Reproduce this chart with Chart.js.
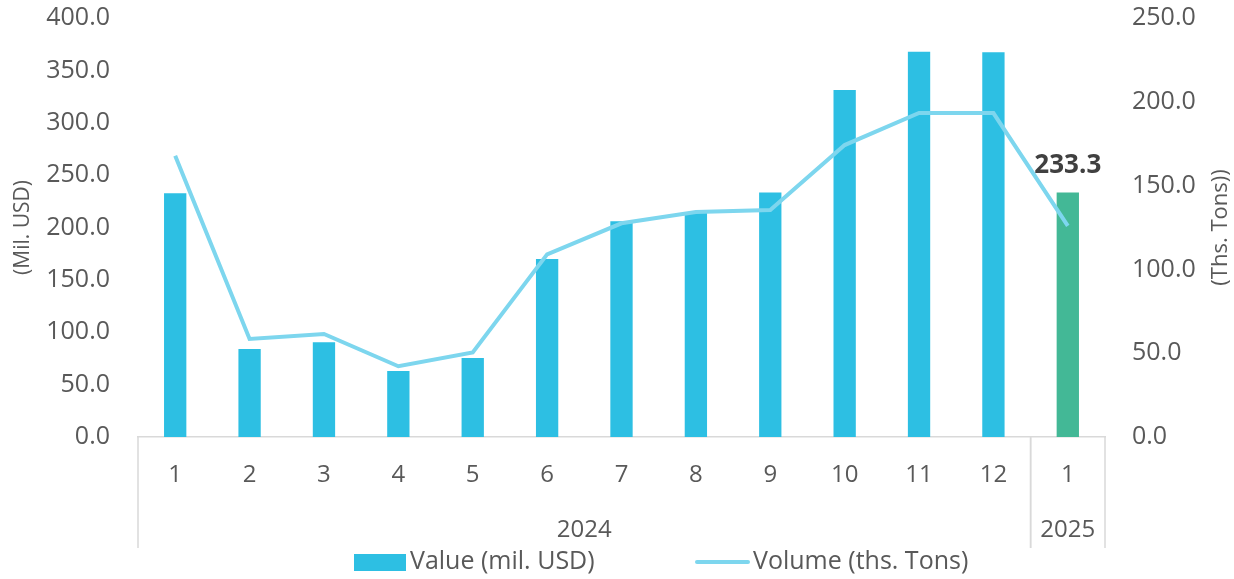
<!DOCTYPE html>
<html>
<head>
<meta charset="utf-8">
<script src="https://cdn.jsdelivr.net/npm/chart.js@4.4.1/dist/chart.umd.min.js"></script>
<style>
  html, body { margin: 0; padding: 0; background: #fff; }
  #wrap { width: 1234px; height: 579px; }
</style>
</head>
<body>
<div id="wrap"><canvas id="chart" width="1234" height="579"></canvas></div>
<script>
  // month labels on the x axis and the year each one belongs to
  const months = ["1", "2", "3", "4", "5", "6", "7", "8", "9", "10", "11", "12", "1"];
  const yearOfMonth = ["2024", "2024", "2024", "2024", "2024", "2024", "2024", "2024", "2024", "2024", "2024", "2024", "2025"];

  // series
  const valueUsd = [232.6, 84, 90.5, 63, 75.5, 170, 206, 214.5, 233.5, 331.3, 367.8, 367.2, 233.3];
  const volumeTons = [167.8, 58.5, 61.5, 42.2, 50.5, 109, 127.5, 134.2, 135.4, 174.2, 193.3, 193.3, 126];

  // axis ranges
  const valueTicks = [0, 50, 100, 150, 200, 250, 300, 350, 400];
  const volumeTicks = [0, 50, 100, 150, 200, 250];

  const FONT = "'Open Sans', 'Noto Sans', sans-serif";
  const TEXT = "#595959";
  const BAR_BLUE = "#2DBFE3";
  const BAR_GREEN = "#43B896";
  const LINE_BLUE = "#7DD6EE";
  const AXIS_GREY = "#D9D9D9";

  const barColors = yearOfMonth.map((y) => (y === "2025" ? BAR_GREEN : BAR_BLUE));

  // year groups under the month ticks, with separators between them
  const yearGroups = {
    id: "yearGroups",
    afterDraw(chart) {
      const { ctx, scales } = chart;
      const x = scales.x;
      const half = (x.getPixelForValue(1) - x.getPixelForValue(0)) / 2;
      const top = chart.chartArea.bottom;
      const bottom = x.bottom;
      ctx.save();
      ctx.strokeStyle = AXIS_GREY;
      ctx.lineWidth = 1.5;
      ctx.fillStyle = TEXT;
      ctx.font = "24px " + FONT;
      ctx.textAlign = "center";
      ctx.textBaseline = "middle";
      let start = 0;
      for (let i = 1; i <= yearOfMonth.length; i++) {
        if (i === yearOfMonth.length || yearOfMonth[i] !== yearOfMonth[start]) {
          const left = x.getPixelForValue(start) - half;
          const right = x.getPixelForValue(i - 1) + half;
          ctx.beginPath();
          ctx.moveTo(left, top);
          ctx.lineTo(left, bottom);
          ctx.moveTo(right, top);
          ctx.lineTo(right, bottom);
          ctx.stroke();
          ctx.fillText(yearOfMonth[start], (left + right) / 2, bottom - 18);
          start = i;
        }
      }
      ctx.restore();
    },
  };

  // bold label above the last bar, right axis title and the legend
  const extras = {
    id: "extras",
    afterDraw(chart) {
      const { ctx, chartArea } = chart;
      const bars = chart.getDatasetMeta(0).data;
      const last = bars[bars.length - 1];
      ctx.save();
      ctx.fillStyle = "#404040";
      ctx.font = "bold 26px " + FONT;
      ctx.textAlign = "center";
      ctx.textBaseline = "bottom";
      ctx.fillText(valueUsd[valueUsd.length - 1].toFixed(1), last.x, last.y - 14);

      // right axis title reads bottom to top like the left one
      ctx.fillStyle = TEXT;
      ctx.font = "22px " + FONT;
      ctx.textBaseline = "middle";
      ctx.translate(1221, (chartArea.top + chartArea.bottom) / 2);
      ctx.rotate(-Math.PI / 2);
      ctx.fillText("(Ths. Tons))", 0, 0);
      ctx.restore();

      // legend
      const ly = 562;
      ctx.save();
      ctx.font = "25px " + FONT;
      ctx.textBaseline = "middle";
      ctx.textAlign = "left";
      ctx.fillStyle = BAR_BLUE;
      ctx.fillRect(354, ly - 8, 52, 17);
      ctx.fillStyle = TEXT;
      ctx.fillText(chart.data.datasets[0].label, 410, ly);
      ctx.strokeStyle = LINE_BLUE;
      ctx.lineWidth = 4;
      ctx.lineCap = "round";
      ctx.beginPath();
      ctx.moveTo(697, ly);
      ctx.lineTo(748, ly);
      ctx.stroke();
      ctx.fillText(chart.data.datasets[1].label, 753, ly);
      ctx.restore();
    },
  };

  new Chart(document.getElementById("chart"), {
    data: {
      labels: months,
      datasets: [
        {
          type: "bar",
          label: "Value (mil. USD)",
          data: valueUsd,
          backgroundColor: barColors,
          yAxisID: "y",
          categoryPercentage: 1,
          barPercentage: 0.3,
          order: 2,
        },
        {
          type: "line",
          label: "Volume (ths. Tons)",
          data: volumeTons,
          borderColor: LINE_BLUE,
          backgroundColor: LINE_BLUE,
          borderWidth: 4,
          pointRadius: 0,
          tension: 0,
          yAxisID: "y1",
          order: 1,
        },
      ],
    },
    options: {
      responsive: false,
      animation: false,
      layout: { padding: { top: 18, bottom: 31, left: 0, right: 0 } },
      plugins: {
        legend: { display: false },
        tooltip: { enabled: false },
      },
      scales: {
        x: {
          grid: { display: false, drawTicks: false },
          border: { display: true, color: AXIS_GREY, width: 1.5 },
          ticks: { color: TEXT, font: { family: FONT, size: 24 }, padding: 24, maxRotation: 0 },
          afterFit: (s) => { s.height = 111; },
        },
        y: {
          position: "left",
          min: valueTicks[0],
          max: valueTicks[valueTicks.length - 1],
          grid: { display: false, drawTicks: false },
          border: { display: false },
          ticks: {
            stepSize: valueTicks[1] - valueTicks[0],
            color: TEXT,
            font: { family: FONT, size: 25 },
            padding: 28,
            callback: (v) => v.toFixed(1),
          },
          title: {
            display: true,
            text: "(Mil. USD)",
            color: TEXT,
            font: { family: FONT, size: 21 },
            padding: { top: 10, bottom: 0 },
          },
          afterFit: (s) => { s.width = 138; s.paddingTop = 0; s.paddingBottom = 0; },
        },
        y1: {
          position: "right",
          min: volumeTicks[0],
          max: volumeTicks[volumeTicks.length - 1],
          grid: { display: false, drawTicks: false },
          border: { display: false },
          ticks: {
            stepSize: volumeTicks[1] - volumeTicks[0],
            color: TEXT,
            font: { family: FONT, size: 25 },
            padding: 27,
            callback: (v) => v.toFixed(1),
          },
          afterFit: (s) => { s.width = 129; s.paddingTop = 0; s.paddingBottom = 0; },
        },
      },
    },
    plugins: [yearGroups, extras],
  });
</script>
</body>
</html>
